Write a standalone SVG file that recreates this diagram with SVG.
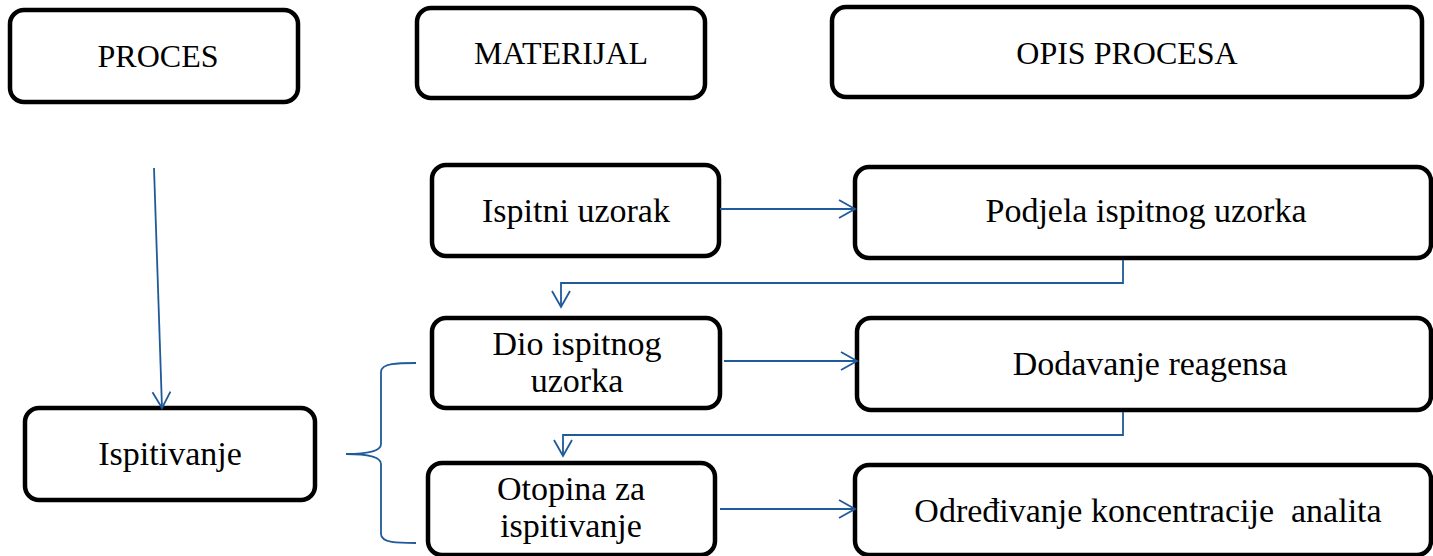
<svg xmlns="http://www.w3.org/2000/svg" width="1433" height="556" viewBox="0 0 1433 556">
<style>
.box{fill:#fff;stroke:#000;stroke-width:4.5}
.t{font-family:"Liberation Serif",serif;font-size:34px;fill:#000;text-anchor:middle}
.h{font-size:32px}
.c{fill:none;stroke:#1f5a9a;stroke-width:1.8}
</style>
<defs>
<marker id="ah" viewBox="0 0 20 20" refX="18" refY="10" markerWidth="20" markerHeight="20" markerUnits="userSpaceOnUse" orient="auto">
<path d="M2,1 L18,10 L2,19" fill="none" stroke="#1f5a9a" stroke-width="1.8"/>
</marker>
</defs>
<g id="n-proces"><rect class="box" x="10" y="10" width="288" height="92" rx="14"/><text class="t h" x="158" y="67">PROCES</text></g>
<g id="n-materijal"><rect class="box" x="417" y="8" width="288" height="90" rx="14"/><text class="t h" x="561" y="64">MATERIJAL</text></g>
<g id="n-opis"><rect class="box" x="832" y="7" width="590" height="90" rx="14"/><text class="t h" x="1127" y="64">OPIS PROCESA</text></g>
<g id="n-ispitni"><rect class="box" x="432" y="165" width="287" height="91" rx="14"/><text class="t" x="576" y="222">Ispitni uzorak</text></g>
<g id="n-podjela"><rect class="box" x="855" y="167" width="576" height="91" rx="14"/><text class="t" x="1146" y="222">Podjela ispitnog uzorka</text></g>
<g id="n-dio"><rect class="box" x="432" y="318" width="288" height="90" rx="14"/><text class="t" x="577" y="355">Dio ispitnog</text><text class="t" x="577" y="392">uzorka</text></g>
<g id="n-dodavanje"><rect class="box" x="857" y="318" width="574" height="92" rx="14"/><text class="t" x="1150" y="375">Dodavanje reagensa</text></g>
<g id="n-ispitivanje"><rect class="box" x="25" y="408" width="290" height="92" rx="14"/><text class="t" x="170" y="465">Ispitivanje</text></g>
<g id="n-otopina"><rect class="box" x="428" y="463" width="287" height="92" rx="14"/><text class="t" x="571" y="500">Otopina za</text><text class="t" x="571" y="537">ispitivanje</text></g>
<g id="n-odredivanje"><rect class="box" x="855" y="465" width="576" height="90" rx="14"/><text class="t" x="1148" y="522" xml:space="preserve">Određivanje koncentracije  analita</text></g>
<g id="connectors">
<path class="c" d="M154,168 L162,408" marker-end="url(#ah)"/>
<path class="c" d="M720,209 L855,209" marker-end="url(#ah)"/>
<path class="c" d="M1123,260 L1123,283 L561,283 L561,307" marker-end="url(#ah)"/>
<path class="c" d="M724,361 L857,361" marker-end="url(#ah)"/>
<path class="c" d="M1123,412 L1123,435 L563,435 L563,456" marker-end="url(#ah)"/>
<path class="c" d="M720,509 L855,509" marker-end="url(#ah)"/>
<path class="c" d="M416,363 C398,363 381,363 381,372 L381,444 C381,450 372,454 346,454 C372,454 381,458 381,464 L381,534 C381,543 398,543 416,543"/>
</g>
</svg>
